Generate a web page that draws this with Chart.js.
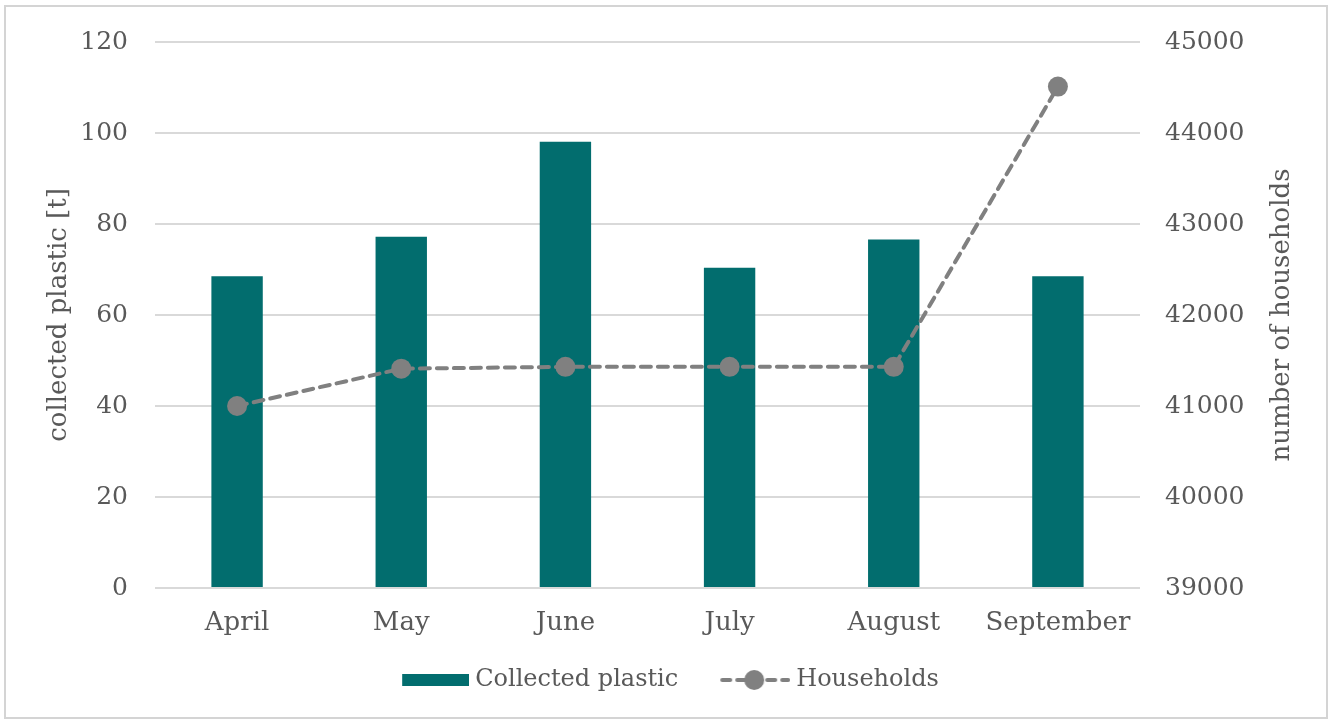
<!DOCTYPE html>
<html>
<head>
<meta charset="utf-8">
<title>Collected plastic and households</title>
<script src="https://cdn.jsdelivr.net/npm/chart.js@4/dist/chart.umd.min.js"></script>
<style>
  html, body { margin: 0; padding: 0; background: #ffffff; }
  #wrap { position: relative; width: 1332px; height: 720px; overflow: hidden; }
  #frame {
    position: absolute; left: 4px; top: 5px; width: 1320px; height: 710px;
    border: 2px solid #d4d4d4; pointer-events: none;
  }
  canvas { position: absolute; left: 0; top: 0; }
</style>
</head>
<body>
<div id="wrap">
  <canvas id="chart" width="1332" height="720"></canvas>
  <div id="frame"></div>
</div>
<script>
// Monthly collection figures
const months = ['April', 'May', 'June', 'July', 'August', 'September'];
const plasticTonnes = [68.5, 77.2, 98.1, 70.4, 76.6, 68.5];
const households = [41000, 41410, 41430, 41430, 41430, 44510];

// Axis ranges and tick steps
const plasticTicks = [0, 120, 20];
const householdTicks = [39000, 45000, 1000];

const TEAL = '#026d6e';
const GREY = '#808080';
const TEXT = '#595959';
const FONT = "'DejaVu Serif', 'Liberation Serif', serif";

// Legend icons drawn into small canvases (used as point styles).
// Each icon is 92px wide, centred on an 80px legend box.
function barIcon() {
  const c = document.createElement('canvas');
  c.width = 92; c.height = 14;
  const g = c.getContext('2d');
  g.fillStyle = TEAL;
  g.fillRect(25, 1, 67, 12);
  return c;
}
function lineIcon() {
  const c = document.createElement('canvas');
  c.width = 92; c.height = 22;
  const g = c.getContext('2d');
  g.strokeStyle = GREY;
  g.lineWidth = 4;
  g.lineCap = 'round';
  g.setLineDash([8, 7]);
  g.beginPath();
  g.moveTo(24, 11);
  g.lineTo(90, 11);
  g.stroke();
  g.setLineDash([]);
  g.fillStyle = GREY;
  g.beginPath();
  g.arc(56, 11, 10, 0, Math.PI * 2);
  g.fill();
  return c;
}

// Right-hand axis title, reading bottom to top
const rightTitle = {
  id: 'rightTitle',
  afterDraw(chart) {
    const { ctx, chartArea } = chart;
    const s = chart.scales.y1;
    ctx.save();
    ctx.translate(s.right - 40, (chartArea.top + chartArea.bottom) / 2);
    ctx.rotate(-Math.PI / 2);
    ctx.font = '26px ' + FONT;
    ctx.fillStyle = TEXT;
    ctx.textAlign = 'center';
    ctx.textBaseline = 'middle';
    ctx.fillText('number of households', 0, 0);
    ctx.restore();
  }
};

new Chart(document.getElementById('chart'), {
  data: {
    labels: months,
    datasets: [
      {
        type: 'bar',
        label: 'Collected plastic',
        data: plasticTonnes,
        backgroundColor: TEAL,
        yAxisID: 'y',
        categoryPercentage: 1,
        barPercentage: 0.313,
        order: 2
      },
      {
        type: 'line',
        label: 'Households',
        data: households,
        yAxisID: 'y1',
        borderColor: GREY,
        backgroundColor: GREY,
        borderWidth: 4,
        borderDash: [10, 7],
        borderCapStyle: 'round',
        pointRadius: 10,
        pointBorderWidth: 0,
        pointBackgroundColor: GREY,
        tension: 0,
        order: 1
      }
    ]
  },
  options: {
    responsive: false,
    animation: false,
    devicePixelRatio: 1,
    layout: { padding: { top: 40, bottom: 18, left: 0, right: 10 } },
    plugins: {
      tooltip: { enabled: false },
      legend: {
        position: 'bottom',
        labels: {
          usePointStyle: true,
          pointStyleWidth: 80,
          boxHeight: 24,
          padding: 26,
          color: TEXT,
          font: { family: FONT, size: 24 },
          generateLabels: () => [
            { text: 'Collected plastic', pointStyle: barIcon(), datasetIndex: 0, fontColor: TEXT, hidden: false, lineWidth: 0, strokeStyle: 'rgba(0,0,0,0)', fillStyle: TEAL },
            { text: 'Households', pointStyle: lineIcon(), datasetIndex: 1, fontColor: TEXT, hidden: false, lineWidth: 0, strokeStyle: 'rgba(0,0,0,0)', fillStyle: GREY }
          ]
        }
      }
    },
    scales: {
      x: {
        offset: true,
        grid: { display: false, drawTicks: false },
        border: { display: false },
        ticks: { color: TEXT, font: { family: FONT, size: 26 }, padding: 20, maxRotation: 0 },
        afterFit: (s) => { s.height = 54; }
      },
      y: {
        position: 'left',
        min: plasticTicks[0],
        max: plasticTicks[1],
        grid: { color: '#d9d9d9', lineWidth: 2, drawTicks: false },
        border: { display: false },
        ticks: { stepSize: plasticTicks[2], color: TEXT, font: { family: FONT, size: 25 }, padding: 27 },
        title: {
          display: true,
          text: 'collected plastic [t]',
          color: TEXT,
          font: { family: FONT, size: 26 },
          padding: { top: 44, bottom: 0 }
        },
        afterFit: (s) => { s.width = 155; }
      },
      y1: {
        position: 'right',
        min: householdTicks[0],
        max: householdTicks[1],
        grid: { display: false, drawTicks: false },
        border: { display: false },
        ticks: {
          stepSize: householdTicks[2],
          color: TEXT,
          font: { family: FONT, size: 25 },
          padding: 25,
          callback: (v) => String(v)
        },
        afterFit: (s) => { s.width = 182; }
      }
    }
  },
  plugins: [rightTitle]
});
</script>
</body>
</html>
